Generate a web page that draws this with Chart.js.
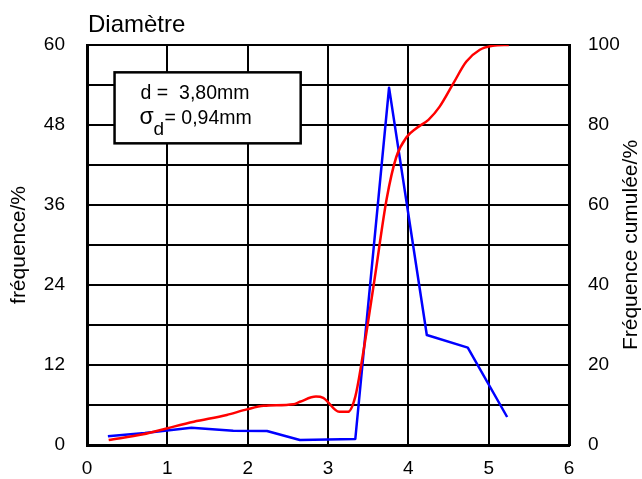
<!DOCTYPE html>
<html>
<head>
<meta charset="utf-8">
<script src="https://cdn.jsdelivr.net/npm/chart.js@4"></script>
<style>
  html, body { margin: 0; padding: 0; background: #fff; }
  canvas { display: block; }
</style>
</head>
<body>
<canvas id="myChart" width="642" height="479"></canvas>
<script>
// Fréquence (axe gauche, %)
const freqX = [0.26, 0.72, 1.30, 1.82, 2.24, 2.65, 3.34, 3.76, 4.23, 4.74, 5.23];
const freqY = [1.3, 1.8, 2.6, 2.15, 2.1, 0.75, 0.9, 53.6, 16.5, 14.6, 4.2];

// Fréquence cumulée (axe droit, %)
const cumX = [0.27, 0.70, 1.00, 1.33, 1.74, 1.99, 2.20, 2.57, 2.65, 2.85, 2.94, 3.14, 3.25, 3.34, 3.42, 3.58, 3.73, 3.85, 3.98, 4.10, 4.25, 4.39, 4.56, 4.72, 4.89, 5.05, 5.25];
const cumY = [1.25, 2.7, 4.2, 5.8, 7.5, 8.9, 9.8, 10.2, 10.8, 12.1, 11.8, 8.3, 8.3, 12.1, 20.8, 41.5, 61.5, 72, 77, 79.2, 81.3, 84.6, 90.4, 95.8, 98.8, 99.8, 100];

// Ticks
const xTicks = [0, 1, 2, 3, 4, 5, 6];
const leftTicks = [0, 12, 24, 36, 48, 60];
const rightTicks = [0, 20, 40, 60, 80, 100];

const titre = "Diamètre";
const labelGauche = "fréquence/%";
const labelDroite = "Fréquence cumulée/%";

const FONT = "'Liberation Sans', Arial, sans-serif";

const toPoints = (xs, ys) => xs.map((x, i) => ({ x: x, y: ys[i] }));

// Textes : titre, titres des axes et encadré
const textesPlugin = {
  id: "textes",
  afterDraw(chart) {
    const ctx = chart.ctx;
    const area = chart.chartArea;
    const sx = chart.scales.x;
    const sy = chart.scales.y;
    ctx.save();
    ctx.fillStyle = "#000";

    // titre
    ctx.font = "24px " + FONT;
    ctx.textAlign = "left";
    ctx.textBaseline = "alphabetic";
    ctx.fillText(titre, area.left + 1, 32);

    // titres des axes (lus de bas en haut)
    ctx.font = "21px " + FONT;
    ctx.textAlign = "center";
    ctx.textBaseline = "middle";
    const midY = (area.top + area.bottom) / 2;
    ctx.save();
    ctx.translate(19, midY);
    ctx.rotate(-Math.PI / 2);
    ctx.fillText(labelGauche, 0, 0);
    ctx.restore();
    ctx.save();
    ctx.translate(631, midY);
    ctx.rotate(-Math.PI / 2);
    ctx.fillText(labelDroite, 0, 0);
    ctx.restore();

    // encadré
    const bx1 = sx.getPixelForValue(0.343);
    const bx2 = sx.getPixelForValue(2.66);
    const by1 = sy.getPixelForValue(55.9);
    const by2 = sy.getPixelForValue(45.25);
    ctx.fillStyle = "#fff";
    ctx.fillRect(bx1, by1, bx2 - bx1, by2 - by1);
    ctx.strokeStyle = "#000";
    ctx.lineWidth = 2.5;
    ctx.strokeRect(bx1, by1, bx2 - bx1, by2 - by1);

    ctx.fillStyle = "#000";
    ctx.textAlign = "left";
    ctx.textBaseline = "alphabetic";
    ctx.font = "19.5px " + FONT;
    ctx.fillText("d =  3,80mm", bx1 + 26, by1 + 27);
    ctx.font = "23px " + FONT;
    ctx.fillText("σ", bx1 + 25, by1 + 52);
    ctx.font = "19px " + FONT;
    ctx.fillText("d", bx1 + 39, by1 + 63);
    ctx.font = "19.5px " + FONT;
    ctx.fillText("= 0,94mm", bx1 + 50, by1 + 52);
    ctx.restore();
  },
};

const crearGrafico = () => {
  const ctx = document.getElementById("myChart").getContext("2d");
  new Chart(ctx, {
    type: "line",
    data: {
      datasets: [
        {
          label: "Fréquence cumulée",
          data: toPoints(cumX, cumY),
          yAxisID: "y2",
          borderColor: "#ff0000",
          borderWidth: 2.5,
          pointRadius: 0,
          cubicInterpolationMode: "monotone",
          fill: false,
          order: 0,
        },
        {
          label: "Fréquence",
          data: toPoints(freqX, freqY),
          yAxisID: "y",
          borderColor: "#0000ff",
          borderWidth: 2.5,
          borderJoinStyle: "round",
          pointRadius: 0,
          tension: 0,
          fill: false,
          order: 1,
        },
      ],
    },
    options: {
      responsive: false,
      animation: false,
      devicePixelRatio: 1,
      layout: { padding: { top: 45, left: 0, right: 0, bottom: 0 } },
      plugins: {
        legend: { display: false },
        tooltip: { enabled: false },
        title: { display: false },
      },
      scales: {
        x: {
          type: "linear",
          min: 0,
          max: 6,
          afterBuildTicks: (s) => { s.ticks = xTicks.map((v) => ({ value: v })); },
          afterFit: (s) => { s.height = 34; },
          ticks: { color: "#000", font: { family: FONT, size: 19 }, padding: 12 },
          grid: { color: "#000", lineWidth: 2, drawTicks: false },
          border: { color: "#000", width: 3 },
        },
        y: {
          position: "left",
          min: 0,
          max: 60,
          ticks: {
            stepSize: 6,
            color: "#000",
            font: { family: FONT, size: 19 },
            padding: 22,
            callback: (v) => (leftTicks.includes(v) ? v : ""),
          },
          afterFit: (s) => { s.width = 87; },
          grid: { color: "#000", lineWidth: 2, drawTicks: false },
          border: { color: "#000", width: 3 },
        },
        y2: {
          position: "right",
          min: 0,
          max: 100,
          afterBuildTicks: (s) => { s.ticks = rightTicks.map((v) => ({ value: v })); },
          ticks: { color: "#000", font: { family: FONT, size: 19 }, padding: 19 },
          afterFit: (s) => { s.width = 73; },
          grid: { display: false, drawTicks: false },
          border: { color: "#000", width: 3 },
        },
      },
    },
    plugins: [textesPlugin],
  });
};

crearGrafico();
</script>
</body>
</html>
